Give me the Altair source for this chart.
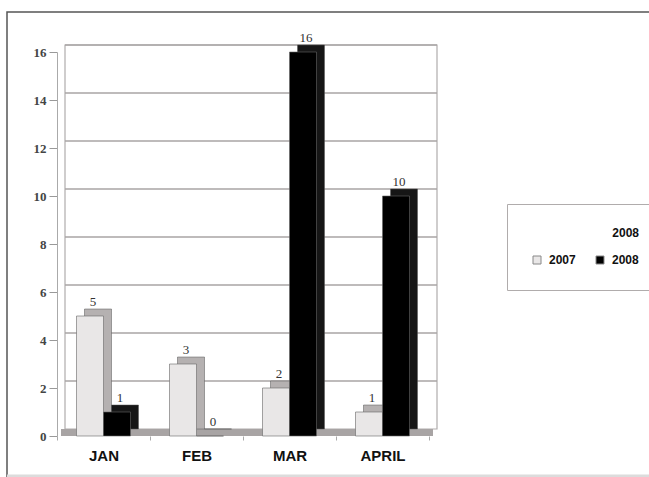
import altair as alt
import pandas as pd

months = ["JAN", "FEB", "MAR", "APRIL"]
years = ["2007", "2008"]
values_2007 = [5, 3, 2, 1]
values_2008 = [1, 0, 16, 10]
y_ticks = [0, 2, 4, 6, 8, 10, 12, 14, 16]

rows = []
for m, a, b in zip(months, values_2007, values_2008):
    rows.append({"month": m, "year": years[0], "value": a})
    rows.append({"month": m, "year": years[1], "value": b})
df = pd.DataFrame(rows)
grid_df = pd.DataFrame({"tick": y_ticks})

W, H = 372, 384
BW = 27       # bar width
DX, DY = 8, -7  # 3-D depth offset
xscale = alt.Scale(domain=months, paddingInner=0, paddingOuter=0)
yscale = alt.Scale(domain=[0, 16], nice=False)

x_axis = alt.Axis(title=None, labelFont="Liberation Sans", labelFontWeight="bold",
                  labelFontSize=15, labelColor="#111", labelPadding=8,
                  ticks=True, tickBand="extent", tickSize=4, tickColor="#aaa",
                  domain=False, labelAngle=0, grid=False)
y_axis = alt.Axis(title=None, values=y_ticks, labelFont="Liberation Serif",
                  labelFontWeight="bold", labelFontSize=13, labelColor="#444",
                  tickColor="#999", tickSize=8, labelPadding=3,
                  domainColor="#aaa", grid=False)

deco = alt.Chart(grid_df)

frame = deco.transform_filter("datum.tick == 16").mark_rect(
    fill="white", fillOpacity=0, stroke="#555", strokeWidth=1.5).encode(
    x=alt.value(-50), x2=alt.value(W + 240), y=alt.value(-40), y2=alt.value(H + 60))

bottom_edge = deco.transform_filter("datum.tick == 16").mark_rule(
    color="#dcdcdc", strokeWidth=3).encode(
    x=alt.value(-50), x2=alt.value(W + 240), y=alt.value(H + 40))

wall = deco.transform_filter("datum.tick == 16").mark_rect(
    fill="white", fillOpacity=0, stroke="#b0acac", strokeWidth=1.2).encode(
    x=alt.value(DX), x2=alt.value(W + DX), y=alt.value(DY), y2=alt.value(H + DY))

grid = deco.transform_filter("datum.tick > 0").mark_rule(
    color="#a8a4a4", strokeWidth=1.3, yOffset=DY).encode(
    y=alt.Y("tick:Q", scale=yscale, axis=y_axis), x=alt.value(DX), x2=alt.value(W + DX))

floor = deco.transform_filter("datum.tick == 0").mark_rule(
    color="#a8a4a4", strokeWidth=7, yOffset=DY / 2).encode(
    y=alt.Y("tick:Q", scale=yscale, axis=y_axis), x=alt.value(DX / 2), x2=alt.value(W + DX / 2))

layers = [frame, bottom_edge, wall, grid, floor]

front_colors = {"2007": "#e9e7e7", "2008": "#000000"}
side_colors = {"2007": "#b5b1b1", "2008": "#161616"}
shift = {"2007": -BW / 2, "2008": BW / 2}

legend = alt.Legend(orient="none", legendX=450, legendY=152,
                    direction="horizontal", title="2008",
                    titleFont="Liberation Sans", titleFontWeight="bold",
                    titleFontSize=12, titleColor="#111", titleAnchor="end",
                    titlePadding=14, padding=24, strokeColor="#b0acac",
                    fillColor="white", symbolType="square", symbolSize=64,
                    symbolStrokeColor="#888", symbolStrokeWidth=1,
                    labelFont="Liberation Sans", labelFontWeight="bold",
                    labelFontSize=12, labelColor="#111",
                    labelOffset=6, columnPadding=18)
color_scale = alt.Scale(domain=years, range=[front_colors[y] for y in years])

for i, yr in enumerate(years):
    sub = alt.Chart(df).transform_filter(f"datum.year == '{yr}'")
    back = sub.mark_bar(width=BW, xOffset=shift[yr] + DX, yOffset=DY, y2Offset=DY,
                        color=side_colors[yr], stroke="#555", strokeWidth=0.5).encode(
        x=alt.X("month:N", scale=xscale, axis=x_axis),
        y=alt.Y("value:Q", scale=yscale, axis=y_axis),
    )
    front = sub.mark_bar(width=BW, xOffset=shift[yr], stroke="#666", strokeWidth=0.6).encode(
        x=alt.X("month:N", scale=xscale, axis=x_axis),
        y=alt.Y("value:Q", scale=yscale, axis=y_axis),
        color=alt.Color("year:N", scale=color_scale, legend=legend),
    )
    text = sub.mark_text(font="Liberation Serif", fontSize=13, color="#333",
                         baseline="bottom", dx=shift[yr] + 3, dy=-7).encode(
        x=alt.X("month:N", scale=xscale, axis=x_axis),
        y=alt.Y("value:Q", scale=yscale, axis=y_axis),
        text="value:Q",
    )
    layers += [back, front, text]

chart = alt.layer(*layers).properties(
    width=W, height=H,
    autosize=alt.AutoSizeParams(type="none"),
    padding={"left": 57, "top": 52, "right": 220, "bottom": 41},
    background="white",
).configure_view(stroke=None)

chart.save("out.html", embed_options={"renderer": "svg", "actions": False})
